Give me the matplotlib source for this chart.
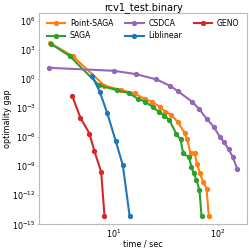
import matplotlib
matplotlib.use("Agg")
import matplotlib.pyplot as plt

# values
point_saga_t = [2.48, 4.06, 8.2, 11.9, 16.0, 20.3, 23.6, 27.7, 31.6, 35.7, 41.5,
                48.2, 51.1, 55.0, 60.1, 63.8, 67.6, 72.9, 78.4, 82.5]
point_saga_gap = [4900, 240, 0.21, 0.073, 0.033, 8e-3, 4.5e-3, 1.4e-3, 4.2e-4, 2.1e-4, 3.8e-5,
                  2.8e-6, 5.8e-7, 2.1e-8, 2.1e-8, 1.6e-9, 1.8e-10, 2.4e-11, 5e-12, 6.8e-15]

saga_t = [2.52, 3.80, 7.22, 10.7, 14.0, 17.1, 20.3, 24.1, 27.3, 30.9, 34.5,
          40.3, 44.1, 46.8, 53.0, 56.2, 59.2, 62.8, 67.1, 70.2]
saga_gap = [4200, 240, 0.24, 0.073, 0.036, 9.6e-3, 4.5e-3, 1.2e-3, 4.2e-4, 1.7e-4, 5.8e-5,
            2.0e-6, 5.8e-7, 2.1e-8, 9.2e-9, 8.5e-10, 1.8e-10, 3.6e-11, 3.3e-12, 6.8e-15]

csdca_t = [2.39, 10.1, 16.3, 25.9, 35.3, 41.5, 57.1, 67.1, 79.6, 92.1, 105,
           115, 128, 140, 155]
csdca_gap = [14.7, 7.2, 3.3, 0.93, 0.19, 0.058, 4.5e-3, 7.4e-4, 6.8e-5, 1.2e-5, 1.1e-6,
             3.3e-7, 5.4e-8, 9.2e-9, 4.9e-10]

liblinear_t = [6.24, 7.38, 8.70, 10.5, 12.3, 14.3]
liblinear_gap = [2.2, 0.049, 3.3e-4, 4.2e-7, 1.3e-9, 7.3e-15]

geno_t = [4.01, 4.82, 5.88, 6.56, 7.62, 8.2]
geno_gap = [0.019, 1e-4, 2.4e-6, 3.6e-8, 2.6e-10, 7.3e-15]

series = [
    ("Point-SAGA", point_saga_t, point_saga_gap, "tab:orange"),
    ("SAGA", saga_t, saga_gap, "tab:green"),
    ("CSDCA", csdca_t, csdca_gap, "tab:purple"),
    ("Liblinear", liblinear_t, liblinear_gap, "tab:blue"),
    ("GENO", geno_t, geno_gap, "tab:red"),
]

fig = plt.figure(figsize=(2.49, 2.49), dpi=100)
ax = fig.add_axes([0.158, 0.099, 0.833, 0.847])

for name, t, gap, color in series:
    ax.plot(t, gap, marker="o", markersize=2.8, linewidth=1.5, color=color, label=name)

ax.set_xscale("log")
ax.set_yscale("log")
ax.set_ylim(1e-15, 6e6)
ax.set_yticks([1e6, 1e3, 1e0, 1e-3, 1e-6, 1e-9, 1e-12, 1e-15])
ax.yaxis.set_minor_locator(plt.NullLocator())

for s in ax.spines.values():
    s.set_color("#bbbbbb")
ax.tick_params(labelsize=5.8, length=1.5, width=0.6, color="#bbbbbb", pad=1)
ax.tick_params(axis="x", which="minor", length=1, width=0.5, color="#bbbbbb")

ax.set_title("rcv1_test.binary", fontsize=7, pad=2)
ax.set_xlabel("time / sec", fontsize=5.8, labelpad=-0.5)
ax.set_ylabel("optimality gap", fontsize=5.8, labelpad=0)

ax.legend(ncol=3, loc="upper center", fontsize=5.6, frameon=False,
          handlelength=2.4, columnspacing=1.5, borderaxespad=0.3,
          labelspacing=0.45, handletextpad=0.6)

fig.savefig("out.png", dpi=100)
